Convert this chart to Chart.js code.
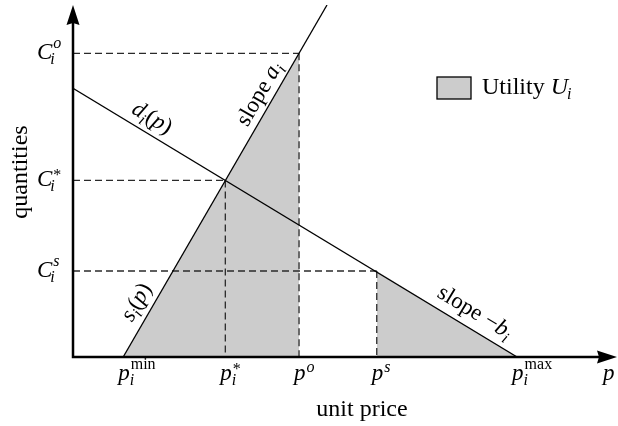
<!DOCTYPE html>
<html>
<head>
<meta charset="utf-8">
<script src="https://cdn.jsdelivr.net/npm/chart.js@4.4.0/dist/chart.umd.min.js"></script>
<style>
  html, body { margin: 0; padding: 0; background: #fff; }
  #wrap { width: 618px; height: 426px; position: relative; }
</style>
</head>
<body>
<div id="wrap"><canvas id="chart"></canvas></div>
<script>
// Values (price on x, quantity on y)
const priceMarks = [1.13, 3.43, 5.09, 6.84, 10.0];        // p_min, p*, p^o, p^s, p_max
const priceSup = ['min', '*', 'o', 's', 'max'];
const priceSub = ['i', 'i', '', '', 'i'];
const quantityMarks = [3.2, 6.57, 11.3];                   // C^s, C*, C^o
const quantitySup = ['s', '*', 'o'];
const supplyLine = [{x: 1.13, y: 0}, {x: 5.72, y: 13.1}];
const demandLine = [{x: 0, y: 10}, {x: 10.0, y: 0}];
const axisMax = {x: 12.25, y: 13.1};

const [pMin, pStar, pO, pS, pMax] = priceMarks;
const [cS, cStar, cO] = quantityMarks;

const SERIF = '"Liberation Serif", "Times New Roman", serif';
const BASE = 23, SCRIPT = 16;

function setFont(ctx, it, size) {
  ctx.font = (it ? 'italic ' : '') + size + 'px ' + SERIF;
}

// width of one piece of rich text
function segWidth(ctx, s) {
  if (s.t !== undefined) {
    setFont(ctx, s.it, s.size || BASE);
    return ctx.measureText(s.t).width;
  }
  let w = 0;
  if (s.sup) {
    setFont(ctx, s.supIt, SCRIPT);
    w = Math.max(w, ctx.measureText(s.sup).width + (s.supDx || 0));
  }
  if (s.sub) {
    setFont(ctx, true, SCRIPT);
    w = Math.max(w, ctx.measureText(s.sub).width + (s.subDx || 0));
  }
  return w;
}

function richWidth(ctx, segs) {
  return segs.reduce((a, s) => a + segWidth(ctx, s), 0);
}

function drawRich(ctx, segs, x, y) {
  segs.forEach(s => {
    if (s.t !== undefined) {
      setFont(ctx, s.it, s.size || BASE);
      ctx.fillText(s.t, x, y);
    } else {
      if (s.sup) {
        setFont(ctx, s.supIt, SCRIPT);
        const raise = s.raise !== undefined ? s.raise : (s.sub ? 11 : 8);
        ctx.fillText(s.sup, x + (s.supDx || 0), y - raise);
      }
      if (s.sub) {
        setFont(ctx, true, SCRIPT);
        ctx.fillText(s.sub, x + (s.subDx || 0), y + 5);
      }
    }
    x += segWidth(ctx, s);
  });
}

// label rotated along a line, centred at the given price
function labelOnLine(ctx, xs, ys, line, price, offset, segs) {
  const ax = xs.getPixelForValue(line[0].x), ay = ys.getPixelForValue(line[0].y);
  const bx = xs.getPixelForValue(line[1].x), by = ys.getPixelForValue(line[1].y);
  const ang = Math.atan2(by - ay, bx - ax);
  const px = xs.getPixelForValue(price);
  const py = ay + (by - ay) * (px - ax) / (bx - ax);
  ctx.save();
  ctx.translate(px, py);
  ctx.rotate(ang);
  const w = richWidth(ctx, segs);
  drawRich(ctx, segs, -w / 2, -offset);
  ctx.restore();
}

function supSeg(sup, sub) {
  const italicSup = sup === 'o' || sup === 's';
  const seg = {sup: sup, supIt: italicSup, supDx: 1};
  if (sub) seg.sub = sub;
  if (sup === '*') seg.raise = sub ? 6 : 4;
  return seg;
}

const diagramPlugin = {
  id: 'diagram',
  afterDatasetsDraw(chart) {
    const {ctx, chartArea, scales: {x, y}} = chart;
    const x0 = x.getPixelForValue(0), y0 = y.getPixelForValue(0);
    ctx.save();
    ctx.fillStyle = '#000';
    ctx.strokeStyle = '#000';

    // axes with arrow heads
    ctx.lineWidth = 2.5;
    ctx.beginPath();
    ctx.moveTo(x0, y0 + 1.2);
    ctx.lineTo(x0, chartArea.top + 16);
    ctx.moveTo(x0 - 1.2, y0);
    ctx.lineTo(chartArea.right - 16, y0);
    ctx.stroke();
    ctx.beginPath();
    ctx.moveTo(x0, chartArea.top);
    ctx.lineTo(x0 - 6.5, chartArea.top + 20);
    ctx.lineTo(x0, chartArea.top + 18);
    ctx.lineTo(x0 + 6.5, chartArea.top + 20);
    ctx.closePath();
    ctx.fill();
    ctx.beginPath();
    ctx.moveTo(chartArea.right, y0);
    ctx.lineTo(chartArea.right - 20, y0 - 6.5);
    ctx.lineTo(chartArea.right - 18, y0);
    ctx.lineTo(chartArea.right - 20, y0 + 6.5);
    ctx.closePath();
    ctx.fill();

    ctx.textAlign = 'left';
    ctx.textBaseline = 'alphabetic';

    // price tick labels
    priceMarks.forEach((v, i) => {
      const segs = [{t: 'p', it: true}, supSeg(priceSup[i], priceSub[i])];
      drawRich(ctx, segs, x.getPixelForValue(v) - 5, y0 + 23);
    });
    drawRich(ctx, [{t: 'p', it: true}], chartArea.right - 14, y0 + 23);

    // quantity tick labels
    quantityMarks.forEach((v, i) => {
      const segs = [{t: 'C', it: true}, supSeg(quantitySup[i], 'i')];
      segs[1].subDx = -2;
      segs[1].supDx = 1;
      drawRich(ctx, segs, 37, y.getPixelForValue(v) + 6);
    });

    // axis titles
    setFont(ctx, false, 24);
    ctx.textAlign = 'center';
    ctx.fillText('unit price', 362, 416);
    ctx.save();
    ctx.translate(27, 172);
    ctx.rotate(-Math.PI / 2);
    ctx.fillText('quantities', 0, 0);
    ctx.restore();
    ctx.textAlign = 'left';

    // labels along the lines
    labelOnLine(ctx, x, y, demandLine, 1.6, 9,
      [{t: 'd', it: true}, {sub: 'i'}, {t: '('}, {t: 'p', it: true}, {t: ')'}]);
    labelOnLine(ctx, x, y, demandLine, 8.86, 10,
      [{t: 'slope \u2212'}, {t: 'b', it: true}, {sub: 'i'}]);
    labelOnLine(ctx, x, y, supplyLine, 4.47, 7.5,
      [{t: 'slope '}, {t: 'a', it: true}, {sub: 'i'}]);
    labelOnLine(ctx, x, y, supplyLine, 1.74, 9.5,
      [{t: 's', it: true}, {sub: 'i'}, {t: '('}, {t: 'p', it: true}, {t: ')'}]);

    // legend
    ctx.fillStyle = '#cccccc';
    ctx.fillRect(437, 77, 34, 22);
    ctx.lineWidth = 1.3;
    ctx.strokeStyle = '#000';
    ctx.strokeRect(437, 77, 34, 22);
    ctx.fillStyle = '#000';
    drawRich(ctx, [{t: 'Utility ', size: 24}, {t: 'U', it: true, size: 24}, {sub: 'i', subDx: -1}], 482, 94);

    ctx.restore();
  }
};

function dashed(points) {
  return {
    data: points,
    borderColor: '#2a2a2a',
    borderWidth: 1.3,
    borderDash: [7, 4],
    pointRadius: 0,
    fill: false
  };
}

new Chart(document.getElementById('chart'), {
  type: 'line',
  data: {
    datasets: [
      {data: supplyLine, borderColor: '#000', borderWidth: 1.3, pointRadius: 0, fill: false},
      {data: demandLine, borderColor: '#000', borderWidth: 1.3, pointRadius: 0, fill: false},
      dashed([{x: 0, y: cO}, {x: pO, y: cO}]),
      dashed([{x: pO, y: cO}, {x: pO, y: 0}]),
      dashed([{x: 0, y: cStar}, {x: pStar, y: cStar}]),
      dashed([{x: pStar, y: cStar}, {x: pStar, y: 0}]),
      dashed([{x: 0, y: cS}, {x: pS, y: cS}]),
      dashed([{x: pS, y: cS}, {x: pS, y: 0}]),
      {
        data: [{x: pMin, y: 0}, {x: pO, y: cO}],
        borderColor: 'transparent', borderWidth: 0, pointRadius: 0,
        backgroundColor: '#cccccc', fill: 'origin'
      },
      {
        data: [{x: pS, y: 0}, {x: pS, y: cS}, {x: pMax, y: 0}],
        borderColor: 'transparent', borderWidth: 0, pointRadius: 0,
        backgroundColor: '#cccccc', fill: 'origin'
      }
    ]
  },
  options: {
    responsive: true,
    maintainAspectRatio: false,
    animation: false,
    events: [],
    layout: {padding: {left: 73, right: 1, top: 5, bottom: 69}},
    plugins: {
      legend: {display: false},
      tooltip: {enabled: false}
    },
    scales: {
      x: {type: 'linear', min: 0, max: axisMax.x, display: false},
      y: {type: 'linear', min: 0, max: axisMax.y, display: false}
    }
  },
  plugins: [diagramPlugin]
});
</script>
</body>
</html>
